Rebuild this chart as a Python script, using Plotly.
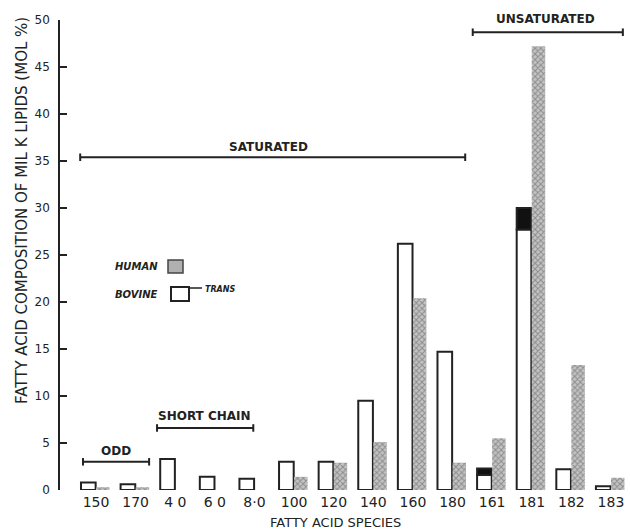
import plotly.graph_objects as go

# ---- data ----
species = ["150", "170", "4 0", "6 0", "8·0", "100", "120", "140", "160", "180",
           "161", "181", "182", "183"]
bovine_cis = [0.8, 0.6, 3.3, 1.4, 1.2, 3.0, 3.0, 9.5, 26.2, 14.7, 1.6, 27.7, 2.2, 0.4]
bovine_trans = [None, None, None, None, None, None, None, None, None, None, 0.7, 2.3, None, None]
human = [0.3, 0.3, None, None, None, 1.4, 2.9, 5.1, 20.4, 2.9, 5.5, 47.2, 13.3, 1.3]
y_ticks = [0, 5, 10, 15, 20, 25, 30, 35, 40, 45, 50]

INK = "#222222"
FONT = "DejaVu Sans"

# plot geometry (pixels) -> paper helpers
L, R, T, B = 60, 2, 20, 42
W, H = 630, 532
PW, PH = W - L - R, H - T - B


def px(x):
    return (x - L) / PW


def py(y):
    return (H - B - y) / PH


HUMAN_PATTERN = dict(shape="x", fgcolor="#555555", bgcolor="#c4c4c4", size=4, solidity=0.45)

fig = go.Figure()

fig.add_trace(go.Bar(
    x=species, y=bovine_cis, name="BOVINE",
    offset=-0.38, width=0.37,
    marker=dict(color="white", line=dict(color=INK, width=2)),
    showlegend=False,
))
fig.add_trace(go.Bar(
    x=species, y=bovine_trans, base=bovine_cis, name="TRANS",
    offset=-0.38, width=0.37,
    marker=dict(color="#111111", line=dict(color=INK, width=2)),
    showlegend=False,
))
fig.add_trace(go.Bar(
    x=species, y=human, name="HUMAN",
    offset=0.0, width=0.34,
    marker=dict(color="#b0b0b0", pattern=HUMAN_PATTERN, line=dict(width=0)),
    showlegend=False,
))

# ---- group brackets ----
brackets = [
    ("SATURATED", -0.40, 9.32, 35.4, 4.35, 36.5),
    ("UNSATURATED", 9.51, 13.30, 48.7, 11.34, 50.1),
    ("SHORT CHAIN", 1.54, 3.97, 6.6, 2.74, 7.9),
    ("ODD", -0.33, 1.34, 3.0, 0.51, 4.15),
]
shapes = []
annotations = []
for label, x0, x1, yl, xt, yt in brackets:
    shapes.append(dict(type="line", xref="x", yref="y", x0=x0, x1=x1, y0=yl, y1=yl,
                       line=dict(color=INK, width=2)))
    for xe in (x0, x1):
        shapes.append(dict(type="line", xref="x", yref="y", x0=xe, x1=xe,
                           y0=yl - 0.4, y1=yl + 0.4, line=dict(color=INK, width=2)))
    # label y given in data units; place it in paper units so it is never hidden
    annotations.append(dict(text=f"<b>{label}</b>", x=xt, y=yt / 50.0, xref="x", yref="paper",
                            xanchor="center", yanchor="middle",
                            showarrow=False, font=dict(family=FONT, size=12, color=INK)))

# ---- legend (drawn by hand, text left of swatch) ----
shapes.append(dict(type="rect", xref="paper", yref="paper",
                   x0=px(168), x1=px(183), y0=py(273), y1=py(260),
                   line=dict(color="#444444", width=1.5),
                   fillcolor="#b0b0b0"))
shapes.append(dict(type="rect", xref="paper", yref="paper",
                   x0=px(171), x1=px(189), y0=py(301), y1=py(287),
                   line=dict(color=INK, width=2), fillcolor="white"))
shapes.append(dict(type="line", xref="paper", yref="paper",
                   x0=px(189), x1=px(202), y0=py(288), y1=py(288),
                   line=dict(color=INK, width=1.5)))
annotations += [
    dict(text="<b><i>HUMAN</i></b>", x=px(113), y=py(266), xref="paper", yref="paper",
         xanchor="left", yanchor="middle", showarrow=False,
         font=dict(family=FONT, size=10, color=INK)),
    dict(text="<b><i>BOVINE</i></b>", x=px(113), y=py(294), xref="paper", yref="paper",
         xanchor="left", yanchor="middle", showarrow=False,
         font=dict(family=FONT, size=10, color=INK)),
    dict(text="<b><i>TRANS</i></b>", x=px(203), y=py(289), xref="paper", yref="paper",
         xanchor="left", yanchor="middle", showarrow=False,
         font=dict(family=FONT, size=8, color=INK)),
]

# ---- axis titles ----
annotations += [
    dict(text="FATTY ACID COMPOSITION OF MIL K LIPIDS (MOL %)", x=px(22), y=py(211),
         xref="paper", yref="paper", textangle=-90, showarrow=False,
         xanchor="center", yanchor="middle",
         font=dict(family=FONT, size=15, color=INK)),
    dict(text="FATTY ACID SPECIES", x=px(335), y=py(522), xref="paper", yref="paper",
         xanchor="center", yanchor="middle",
         showarrow=False, font=dict(family=FONT, size=13, color=INK)),
]

fig.update_layout(
    width=W, height=H,
    margin=dict(l=L, r=R, t=T, b=B),
    paper_bgcolor="white", plot_bgcolor="white",
    barmode="overlay",
    shapes=shapes, annotations=annotations,
    xaxis=dict(type="category", range=[-0.91, 13.43], showline=False, showgrid=False,
               zeroline=False, ticks="", tickfont=dict(family=FONT, size=14, color=INK),
               ticklabelstandoff=2),
    yaxis=dict(range=[0, 50], tickvals=y_ticks, showline=True, linecolor=INK, linewidth=1.5,
               ticks="inside", ticklen=7, tickwidth=1.5, tickcolor=INK,
               showgrid=False, zeroline=False, ticklabelstandoff=6,
               tickfont=dict(family=FONT, size=12, color=INK)),
    font=dict(family=FONT, color=INK),
)

fig.write_html("out.html", config={"displayModeBar": False},
               post_script="document.body.style.margin='0';document.body.style.overflow='hidden';")
